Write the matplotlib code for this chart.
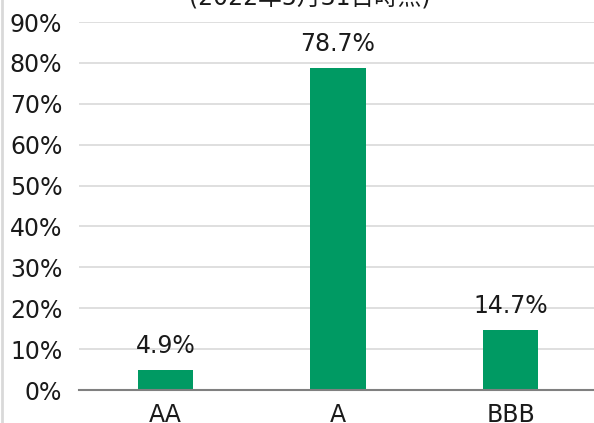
import matplotlib
matplotlib.use("Agg")
import matplotlib.pyplot as plt
from matplotlib.ticker import MultipleLocator, FuncFormatter
from matplotlib.lines import Line2D

plt.rcParams['font.family'] = ['DejaVu Sans', 'Noto Sans CJK JP']

categories = ["AA", "A", "BBB"]
values = [4.9, 78.7, 14.7]
title = "(2022年5月31日時点)"

fig = plt.figure(figsize=(5.94, 4.23), dpi=100)
ax = fig.add_axes([79/594, 1-390/423, 518/594, (390-22)/423])
x = range(len(categories))
ax.bar(x, values, width=0.32, color="#009A63", zorder=3)
for xi, v in zip(x, values):
    ax.text(xi, v + 4.1, f"{v:.1f}%", ha="center", va="baseline", fontsize=17, color="#1a1a1a")
ax.set_ylim(0, 90)
ax.set_xlim(-0.5, 2.5)
ax.yaxis.set_major_locator(MultipleLocator(10))
ax.yaxis.set_major_formatter(FuncFormatter(lambda v, p: f"{v:.0f}%"))
ax.set_xticks(list(x))
ax.set_xticklabels(categories)
ax.tick_params(axis="both", length=0, labelsize=17, labelcolor="#1a1a1a")
ax.tick_params(axis="y", pad=12)
ax.tick_params(axis="x", pad=9)
ax.grid(axis="y", color="#d9d9d9", linewidth=1.2, zorder=0)
for s in ["top", "right", "left"]:
    ax.spines[s].set_visible(False)
ax.spines["bottom"].set_color("#808080")
ax.spines["bottom"].set_linewidth(1.5)
ax.spines["bottom"].set_zorder(4)

fig.text(310/594, 1 - 5/423, title, ha="center", va="baseline", fontsize=17, color="#1a1a1a")
fig.add_artist(Line2D([2/594, 2/594], [0, 1], transform=fig.transFigure, color="#d9d9d9", linewidth=2))

fig.savefig("out.png", dpi=100)
